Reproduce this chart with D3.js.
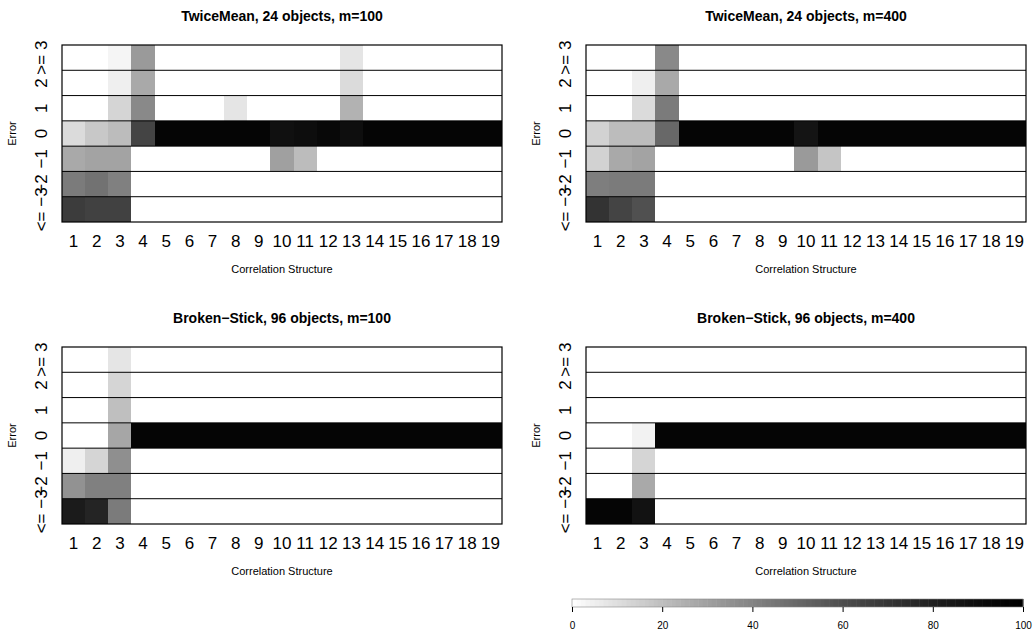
<!DOCTYPE html>
<html>
<head>
<meta charset="utf-8">
<script src="https://cdn.jsdelivr.net/npm/d3@7"></script>
<style>
body { margin: 0; background: #fff; }
svg { font-family: "Liberation Sans", Arial, Helvetica, sans-serif; }
.title { font-weight: bold; font-size: 14px; }
.lab { font-size: 11px; }
.axis text { font-size: 17px; fill: #000; }
.cb text { font-size: 10px; fill: #000; }
.cell { shape-rendering: crispEdges; }
</style>
</head>
<body>
<svg id="chart" width="1033" height="635"></svg>
<script>

/// Categories
var structures = [1, 2, 3, 4, 5, 6, 7, 8, 9, 10, 11, 12, 13, 14, 15, 16, 17, 18, 19];
var errorRows = [">= 3", "2", "1", "0", "\u22121", "\u22122", "<= \u22123"];
var titles = ["TwiceMean, 24 objects, m=100", "TwiceMean, 24 objects, m=400",
              "Broken\u2212Stick, 96 objects, m=100", "Broken\u2212Stick, 96 objects, m=400"];
var legendTicks = [0, 20, 40, 60, 80, 100];

/// Percentages, one row per error level (top row first), one value per structure
var twiceMean100 = [
  [ 0,  0,  3, 32,  0,  0,  0,  0,  0,  0,  0,  0,  8,  0,  0,  0,  0,  0,  0],
  [ 0,  0,  5, 27,  0,  0,  0,  0,  0,  0,  0,  0, 11,  0,  0,  0,  0,  0,  0],
  [ 0,  0, 13, 38,  0,  0,  0,  8,  0,  0,  0,  0, 24,  0,  0,  0,  0,  0,  0],
  [11, 17, 21, 64, 95, 95, 95, 95, 95, 88, 90, 93, 89, 95, 95, 95, 95, 95, 95],
  [27, 29, 29,  0,  0,  0,  0,  0,  0, 30, 21,  0,  0,  0,  0,  0,  0,  0,  0],
  [43, 46, 41,  0,  0,  0,  0,  0,  0,  0,  0,  0,  0,  0,  0,  0,  0,  0,  0],
  [67, 65, 65,  0,  0,  0,  0,  0,  0,  0,  0,  0,  0,  0,  0,  0,  0,  0,  0]
];
var twiceMean400 = [
  [ 0,  0,  0, 38,  0,  0,  0,  0,  0,  0,  0,  0,  0,  0,  0,  0,  0,  0,  0],
  [ 0,  0,  5, 27,  0,  0,  0,  0,  0,  0,  0,  0,  0,  0,  0,  0,  0,  0,  0],
  [ 0,  0, 11, 43,  0,  0,  0,  0,  0,  0,  0,  0,  0,  0,  0,  0,  0,  0,  0],
  [14, 21, 21, 50, 95, 95, 95, 95, 95, 86, 95, 95, 95, 95, 95, 95, 95, 95, 95],
  [14, 27, 29,  0,  0,  0,  0,  0,  0, 32, 18,  0,  0,  0,  0,  0,  0,  0,  0],
  [42, 43, 43,  0,  0,  0,  0,  0,  0,  0,  0,  0,  0,  0,  0,  0,  0,  0,  0],
  [71, 64, 59,  0,  0,  0,  0,  0,  0,  0,  0,  0,  0,  0,  0,  0,  0,  0,  0]
];
var brokenStick100 = [
  [ 0,  0,  8,  0,  0,  0,  0,  0,  0,  0,  0,  0,  0,  0,  0,  0,  0,  0,  0],
  [ 0,  0, 13,  0,  0,  0,  0,  0,  0,  0,  0,  0,  0,  0,  0,  0,  0,  0,  0],
  [ 0,  0, 20,  0,  0,  0,  0,  0,  0,  0,  0,  0,  0,  0,  0,  0,  0,  0,  0],
  [ 0,  0, 28, 95, 95, 95, 95, 95, 95, 95, 95, 95, 95, 95, 95, 95, 95, 95, 95],
  [ 5, 13, 36,  0,  0,  0,  0,  0,  0,  0,  0,  0,  0,  0,  0,  0,  0,  0,  0],
  [35, 41, 41,  0,  0,  0,  0,  0,  0,  0,  0,  0,  0,  0,  0,  0,  0,  0,  0],
  [82, 78, 43,  0,  0,  0,  0,  0,  0,  0,  0,  0,  0,  0,  0,  0,  0,  0,  0]
];
var brokenStick400 = [
  [ 0,  0,  0,  0,  0,  0,  0,  0,  0,  0,  0,  0,  0,  0,  0,  0,  0,  0,  0],
  [ 0,  0,  0,  0,  0,  0,  0,  0,  0,  0,  0,  0,  0,  0,  0,  0,  0,  0,  0],
  [ 0,  0,  0,  0,  0,  0,  0,  0,  0,  0,  0,  0,  0,  0,  0,  0,  0,  0,  0],
  [ 0,  0,  4, 95, 95, 95, 95, 95, 95, 95, 95, 95, 95, 95, 95, 95, 95, 95, 95],
  [ 0,  0, 13,  0,  0,  0,  0,  0,  0,  0,  0,  0,  0,  0,  0,  0,  0,  0,  0],
  [ 0,  0, 27,  0,  0,  0,  0,  0,  0,  0,  0,  0,  0,  0,  0,  0,  0,  0,  0],
  [95, 95, 87,  0,  0,  0,  0,  0,  0,  0,  0,  0,  0,  0,  0,  0,  0,  0,  0]
];

var svg = d3.select("#chart");

/// grey ramp, white at 0 to black at 100
var color = d3.scaleSequential(function(t) {
    var g = Math.round(255 * Math.pow(1 - t, 1.3));
    return d3.rgb(g, g, g).toString();
}).domain([0, 100]);

var panels = [
  {title: titles[0], data: twiceMean100,   left: 62,  top: 45},
  {title: titles[1], data: twiceMean400,   left: 586, top: 45},
  {title: titles[2], data: brokenStick100, left: 62,  top: 347},
  {title: titles[3], data: brokenStick400, left: 586, top: 347}
];
var pw = 440, ph = 177;

panels.forEach(function(p) {
    var x = d3.scaleBand().domain(structures).range([p.left, p.left + pw]);
    var y = d3.scaleBand().domain(errorRows).range([p.top, p.top + ph]);
    var g = svg.append("g");

    /// cells
    p.data.forEach(function(row, i) {
        g.selectAll(null)
          .data(row)
          .enter().append("rect")
            .attr("class", "cell")
            .attr("x", function(d, j) { return Math.round(x(structures[j])); })
            .attr("y", Math.round(y(errorRows[i])))
            .attr("width", function(d, j) {
                return Math.round(x(structures[j]) + x.bandwidth()) - Math.round(x(structures[j]));
            })
            .attr("height", Math.round(y(errorRows[i]) + y.bandwidth()) - Math.round(y(errorRows[i])))
            .attr("fill", function(d) { return color(d); });
    });

    /// row separators
    g.selectAll(null)
      .data(errorRows.slice(1))
      .enter().append("line")
        .attr("x1", p.left).attr("x2", p.left + pw)
        .attr("y1", function(d) { return y(d); })
        .attr("y2", function(d) { return y(d); })
        .attr("stroke", "#000").attr("stroke-width", 1);

    g.append("rect")
        .attr("x", p.left).attr("y", p.top)
        .attr("width", pw).attr("height", ph)
        .attr("fill", "none").attr("stroke", "#000").attr("stroke-width", 1.2);

    /// axes
    var gx = g.append("g")
        .attr("class", "axis")
        .attr("transform", "translate(0," + (p.top + ph) + ")")
        .call(d3.axisBottom(x).tickSize(0).tickPadding(0));
    gx.select(".domain").remove();
    gx.selectAll("text").attr("y", 25).attr("dy", 0);

    var gy = g.append("g")
        .attr("class", "axis")
        .attr("transform", "translate(" + p.left + ",0)")
        .call(d3.axisLeft(y).tickSize(0).tickPadding(0));
    gy.select(".domain").remove();
    gy.selectAll("text")
        .attr("transform", "rotate(-90)")
        .attr("x", 0).attr("y", -15).attr("dy", 0)
        .attr("text-anchor", "middle");

    /// titles and axis labels
    g.append("text")
        .attr("class", "title")
        .attr("x", p.left + pw / 2).attr("y", p.top - 24)
        .attr("text-anchor", "middle")
        .text(p.title);

    g.append("text")
        .attr("class", "lab")
        .attr("x", p.left + pw / 2).attr("y", p.top + ph + 51)
        .attr("text-anchor", "middle")
        .text("Correlation Structure");

    g.append("text")
        .attr("class", "lab")
        .attr("transform", "translate(" + (p.left - 46) + "," + (p.top + ph / 2) + ") rotate(-90)")
        .attr("text-anchor", "middle")
        .text("Error");
});

/// colour bar
var cx = d3.scaleLinear().domain([0, 100]).range([572, 1023]);
var cb = svg.append("g").attr("class", "cb");
var steps = d3.range(0, 100, 1);
cb.selectAll(null)
  .data(steps)
  .enter().append("rect")
    .attr("x", function(d) { return cx(d); })
    .attr("y", 599)
    .attr("width", cx(1) - cx(0) + 0.5)
    .attr("height", 8)
    .attr("fill", function(d) { return color(d + 0.5); });
cb.append("rect")
    .attr("x", cx(0)).attr("y", 599)
    .attr("width", cx(100) - cx(0)).attr("height", 8)
    .attr("fill", "none").attr("stroke", "#888").attr("stroke-width", 0.6);

var ca = cb.append("g")
    .attr("transform", "translate(0,607)")
    .call(d3.axisBottom(cx).tickValues(legendTicks).tickSize(5).tickPadding(10));
ca.select(".domain").remove();
ca.selectAll("line").attr("stroke", "#000");

</script>
</body>
</html>
